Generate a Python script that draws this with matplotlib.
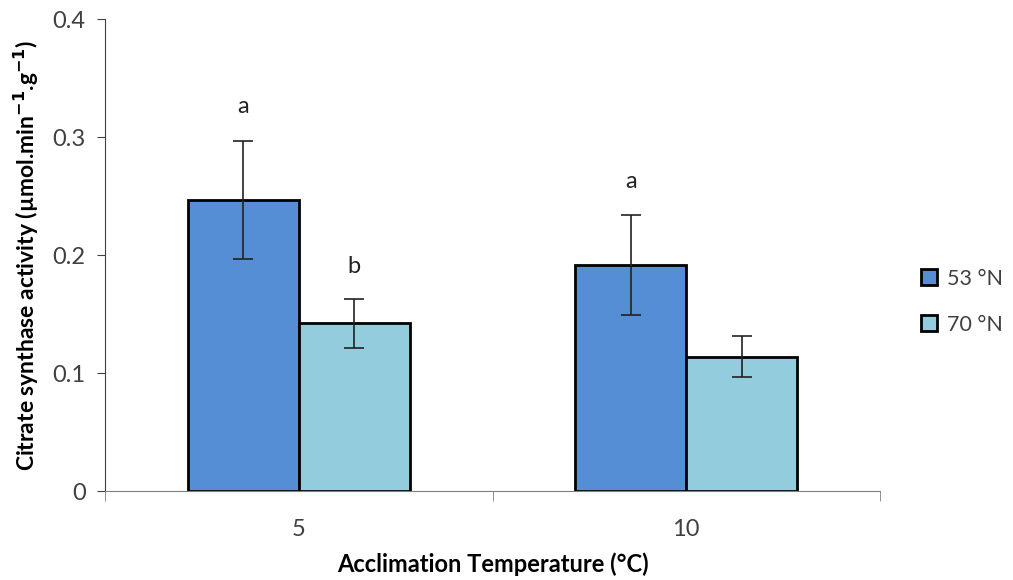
import numpy as np
import matplotlib
matplotlib.use("Agg")
from matplotlib import pyplot as plt

plt.rcParams['font.family'] = ['Lato', 'DejaVu Sans']

temps = ["5", "10"]
series_names = ["53 °N", "70 °N"]
means_53 = [0.247, 0.1915]
errs_53 = [0.050, 0.042]
means_70 = [0.142, 0.114]
errs_70 = [0.021, 0.017]
letters_53 = ["a", "a"]
letters_70 = ["b", ""]

colors = ["#558ED5", "#93CDDD"]

fig = plt.figure(figsize=(10.13, 5.8), dpi=100)
ax = fig.add_axes([0.1037, 0.1534, 0.765, 0.8138])

x = np.arange(len(temps))
w = 0.286
b1 = ax.bar(x - w/2, means_53, w, color=colors[0], edgecolor="black", linewidth=2,
            yerr=errs_53, error_kw=dict(ecolor="#222222", elinewidth=1.2, capsize=7, capthick=1.2),
            label=series_names[0], zorder=2)
b2 = ax.bar(x + w/2, means_70, w, color=colors[1], edgecolor="black", linewidth=2,
            yerr=errs_70, error_kw=dict(ecolor="#222222", elinewidth=1.2, capsize=7, capthick=1.2),
            label=series_names[1], zorder=2)

# significance letters above error bars
for i in range(len(temps)):
    if letters_53[i]:
        ax.text(x[i] - w/2, means_53[i] + errs_53[i] + 0.029, letters_53[i],
                ha="center", va="center", fontsize=17, color="#222222")
    if letters_70[i]:
        ax.text(x[i] + w/2, means_70[i] + errs_70[i] + 0.027, letters_70[i],
                ha="center", va="center", fontsize=17, color="#222222")

ax.set_xlim(-0.5, 1.5)
ax.set_ylim(0, 0.4)
ax.set_yticks([0, 0.1, 0.2, 0.3, 0.4])
ax.set_yticklabels(["0", "0.1", "0.2", "0.3", "0.4"])
ax.set_xticks(x)
ax.set_xticklabels(temps)
ax.set_xticks([-0.5, 0.5, 1.5], minor=True)
ax.tick_params(axis="x", which="major", length=0, pad=20, labelsize=17, labelcolor="#404040")
ax.tick_params(axis="x", which="minor", length=7, direction="out", color="#808080")
ax.tick_params(axis="y", length=6, direction="out", pad=8, labelsize=17, labelcolor="#404040", color="#404040")

for s in ["top", "right"]:
    ax.spines[s].set_visible(False)
ax.spines["left"].set_color("#404040")
ax.spines["bottom"].set_color("#808080")

ax.set_xlabel("Acclimation Temperature (°C)", fontsize=17, fontweight="bold", labelpad=9)
ax.set_ylabel(r"Citrate synthase activity (µmol.min$^{\mathbf{-1}}$.g$^{\mathbf{-1}}$)",
              fontsize=16.5, fontweight="bold", labelpad=8)

leg = fig.legend(handles=[b1, b2], labels=series_names, loc="center left",
                 bbox_to_anchor=(0.89, 0.48), frameon=False, fontsize=15.5,
                 handlelength=0.75, handleheight=0.75, labelspacing=1.2, handletextpad=0.45)
for t in leg.get_texts():
    t.set_color("#404040")

fig.savefig("out.png", dpi=100)
